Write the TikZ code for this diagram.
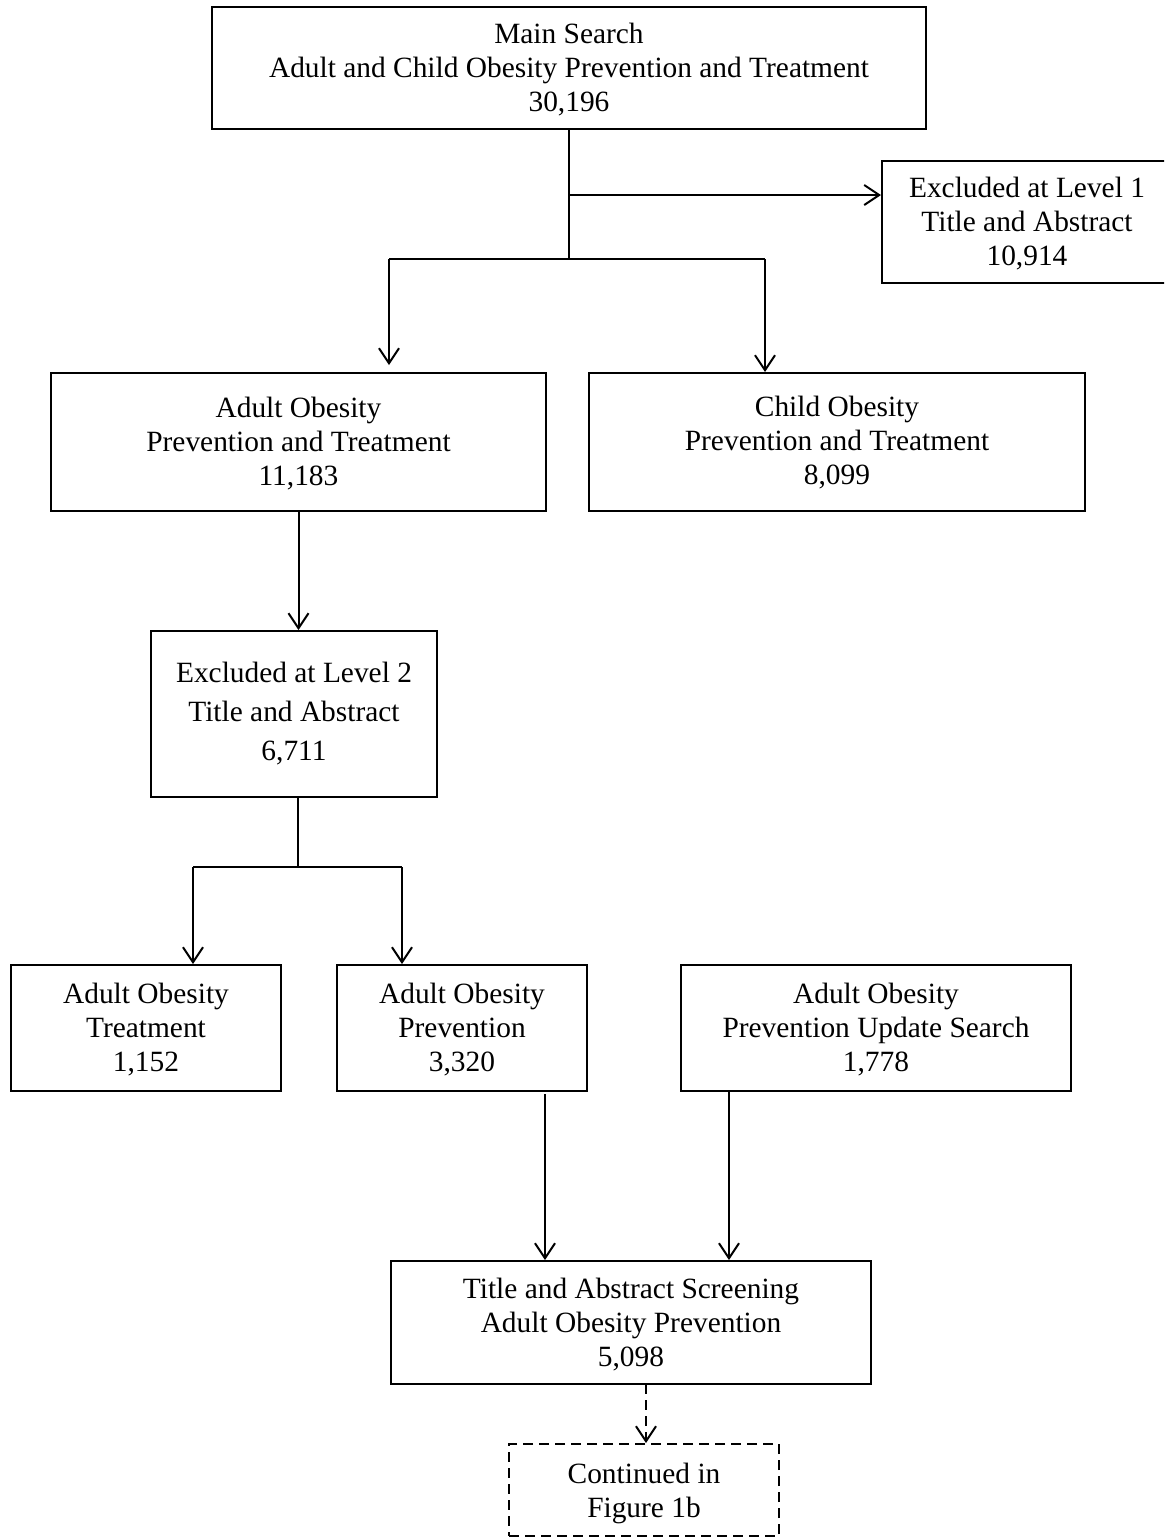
\documentclass[tikz,border=0pt]{standalone}
\usepackage{fontspec}
\setmainfont{Liberation Serif}
\usetikzlibrary{arrows.meta}
\newcommand{\topstrut}[1]{\rule{0pt}{#1}}
\newcommand{\botstrut}[1]{\rule[-#1]{0pt}{0pt}}
\tikzset{
  box/.style={draw, line width=1pt, fill=white, align=center, inner sep=0pt,
    font=\fontsize{14.7}{17}\selectfont},
  link/.style={line width=1pt},
  arr/.style={line width=1pt, -{Straight Barb[length=7.5pt,width=10pt,line width=1pt]}},
  dashbox/.style={box, dash pattern=on 5pt off 3pt}
}
\begin{document}
\begin{tikzpicture}[x=0.5pt,y=-0.5pt]
\useasboundingbox (0,0) rectangle (1164,1538);
\clip (0,0) rectangle (1164,1538);
\fill[white] (0,0) rectangle (1164,1538);

\node[box, minimum width=357pt, minimum height=61pt] (main) at (569,68)
  {\topstrut{12pt}Main Search\\Adult and Child Obesity Prevention and Treatment\\30,196\botstrut{2pt}};
\node[box, minimum width=145pt, minimum height=61pt] (ex1) at (1027,222)
  {\topstrut{12pt}Excluded at Level 1\\Title and Abstract\\10,914\botstrut{2pt}};
\node[box, minimum width=247.5pt, minimum height=69pt] (adult) at (298.5,442)
  {\topstrut{12pt}Adult Obesity\\Prevention and Treatment\\11,183\botstrut{2pt}};
\node[box, minimum width=248pt, minimum height=69pt] (child) at (837,442)
  {\topstrut{10.5pt}Child Obesity\\Prevention and Treatment\\8,099\botstrut{2pt}};
\node[box, minimum width=143pt, minimum height=83pt,
  font=\fontsize{14.7}{19.5}\selectfont] (ex2) at (294,714)
  {\topstrut{10pt}Excluded at Level 2\\Title and Abstract\\6,711\botstrut{2.3pt}};
\node[box, minimum width=135pt, minimum height=63pt] (aot) at (146,1028)
  {\topstrut{12pt}Adult Obesity\\Treatment\\1,152\botstrut{2pt}};
\node[box, minimum width=125pt, minimum height=63pt] (aop) at (462,1028)
  {\topstrut{12pt}Adult Obesity\\Prevention\\3,320\botstrut{2pt}};
\node[box, minimum width=195pt, minimum height=63pt] (aopu) at (876,1028)
  {\topstrut{12pt}Adult Obesity\\Prevention Update Search\\1,778\botstrut{2pt}};
\node[box, minimum width=240pt, minimum height=61.5pt] (ta) at (631,1322.5)
  {\topstrut{12pt}Title and Abstract Screening\\Adult Obesity Prevention\\5,098\botstrut{2pt}};
\node[dashbox, minimum width=135pt, minimum height=46pt] (cont) at (644,1490)
  {\topstrut{14pt}Continued in\\Figure 1b\botstrut{1.8pt}};

% connectors from the main box
\coordinate (j1) at (569,195);
\coordinate (j2) at (569,259);
\coordinate (jl) at (389,259);
\coordinate (jr) at (765,259);
\draw[link] (main.south) -- (j2);
\draw[arr] (j1) -- (ex1.west |- j1);
\draw[link] (jl) -- (jr);
\draw[arr, shorten >=3.5pt] (jl) -- (adult.north -| jl);
\draw[arr] (jr) -- (child.north -| jr);

% adult branch
\draw[arr] (adult.south) -- (adult.south |- ex2.north);
\coordinate (k) at (298,867);
\coordinate (kl) at (193,867);
\coordinate (kr) at (402,867);
\draw[link] (ex2.south -| k) -- (k);
\draw[link] (kl) -- (kr);
\draw[arr] (kl) -- (aot.north -| kl);
\draw[arr] (kr) -- (aop.north -| kr);

% to screening
\coordinate (p1) at (545,1094);
\coordinate (p2) at (729,1091);
\draw[arr] (p1) -- (ta.north -| p1);
\draw[arr] (p2) -- (ta.north -| p2);

% continued
\coordinate (q) at (646,1384);
\draw[arr, dash pattern=on 5pt off 3pt] (q) -- (cont.north -| q);
\end{tikzpicture}
\end{document}
